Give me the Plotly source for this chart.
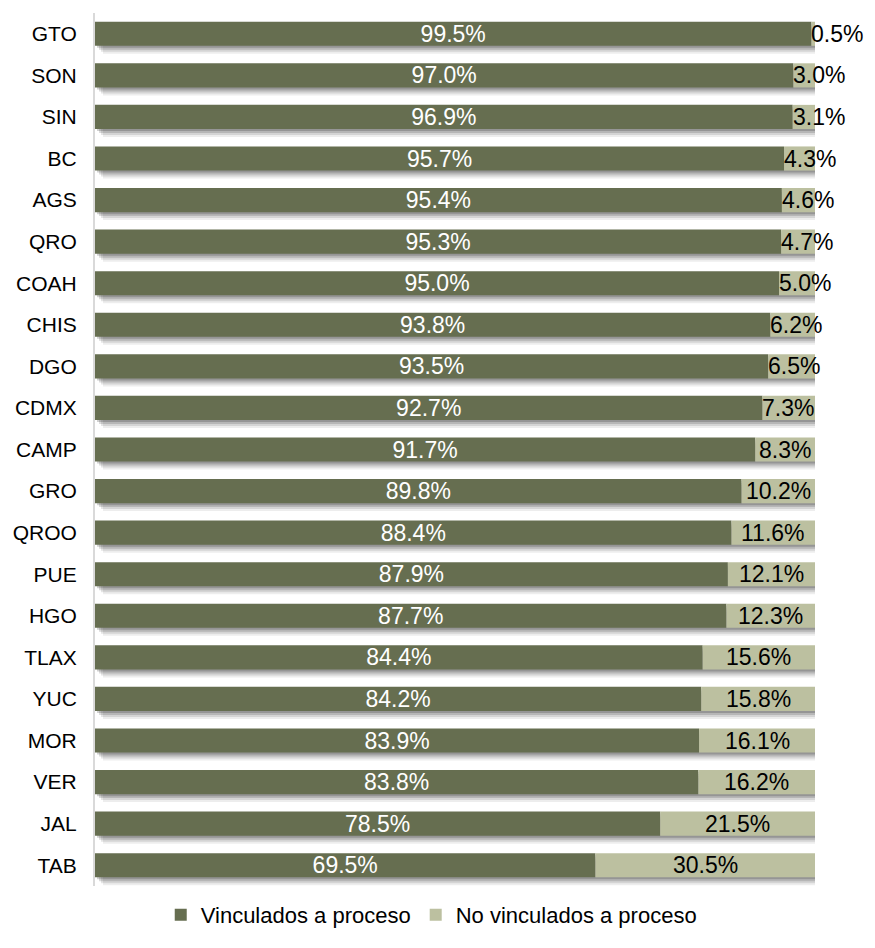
import plotly.graph_objects as go

categories = ["GTO", "SON", "SIN", "BC", "AGS", "QRO", "COAH", "CHIS", "DGO", "CDMX",
              "CAMP", "GRO", "QROO", "PUE", "HGO", "TLAX", "YUC", "MOR", "VER", "JAL", "TAB"]
vinculados = [99.5, 97.0, 96.9, 95.7, 95.4, 95.3, 95.0, 93.8, 93.5, 92.7,
              91.7, 89.8, 88.4, 87.9, 87.7, 84.4, 84.2, 83.9, 83.8, 78.5, 69.5]
no_vinculados = [0.5, 3.0, 3.1, 4.3, 4.6, 4.7, 5.0, 6.2, 6.5, 7.3,
                 8.3, 10.2, 11.6, 12.1, 12.3, 15.6, 15.8, 16.1, 16.2, 21.5, 30.5]

DARK = "#666E50"
LIGHT = "#BCC0A0"
FONT = "Liberation Sans, Arial, sans-serif"
BW = 0.58

totals = [a + b for a, b in zip(vinculados, no_vinculados)]

fig = go.Figure()

# soft drop shadows (px offsets converted to axis units)
PX_Y = 1 / 41.6
PX_X = 100 / 720
for d, col in [(8, "rgba(0,0,0,0.07)"), (6, "rgba(0,0,0,0.10)"),
               (4, "rgba(0,0,0,0.14)"), (2, "rgba(0,0,0,0.18)")]:
    fig.add_trace(go.Bar(
        y=categories, x=totals, base=[d * PX_X] * len(categories), orientation="h",
        width=BW, offset=-BW / 2 + d * PX_Y, marker=dict(color=col, line=dict(width=0)),
        showlegend=False, hoverinfo="skip"))

fig.add_trace(go.Bar(
    y=categories, x=vinculados, orientation="h", name="Vinculados a proceso",
    width=BW, marker=dict(color=DARK, line=dict(width=0)),
    texttemplate="%{x:.1f}%", textposition="inside", insidetextanchor="middle",
    textangle=0, constraintext="none",
    textfont=dict(color="white", size=23, family=FONT)))

fig.add_trace(go.Bar(
    y=categories, x=no_vinculados, base=vinculados, orientation="h",
    name="No vinculados a proceso", width=BW,
    marker=dict(color=LIGHT, line=dict(width=0))))

for cat, d, l in zip(categories, vinculados, no_vinculados):
    if l >= 8:
        fig.add_annotation(x=d + l / 2, y=cat, text=f"{l:.1f}%", showarrow=False,
                           xanchor="center", yanchor="middle",
                           font=dict(color="black", size=23, family=FONT))
    else:
        fig.add_annotation(x=d, y=cat, text=f"{l:.1f}%", showarrow=False,
                           xanchor="left", yanchor="middle", xshift=-2,
                           font=dict(color="black", size=23, family=FONT))

fig.update_layout(
    barmode="overlay",
    width=867, height=932,
    margin=dict(l=87, r=60, t=5, b=53),
    plot_bgcolor="white", paper_bgcolor="white",
    font=dict(family=FONT, color="black", size=21),
    showlegend=True,
    legend=dict(orientation="h", x=0.467, xanchor="center", y=-0.032, yanchor="middle",
                font=dict(size=22, family=FONT), traceorder="normal",
                itemwidth=30),
    xaxis=dict(range=[0, 100], visible=False, fixedrange=True),
    yaxis=dict(autorange="reversed", showline=True, linecolor="#d9d9d9", linewidth=2,
               ticks="", showgrid=False, ticklabelstandoff=12,
               tickfont=dict(size=21, family=FONT, color="black")),
)

fig.write_html("out.html")
